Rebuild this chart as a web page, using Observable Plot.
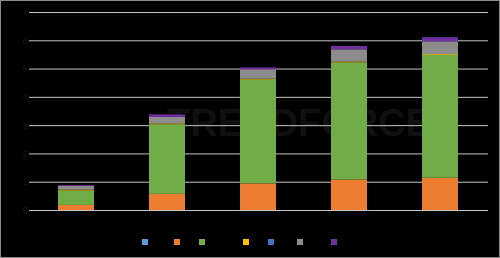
<!DOCTYPE html>
<html>
<head>
<meta charset="utf-8">
<script src="https://cdn.jsdelivr.net/npm/d3@7"></script>
<script src="https://cdn.jsdelivr.net/npm/@observablehq/plot@0.6"></script>
<style>
  html, body { margin: 0; padding: 0; background: #000; }
  #chart {
    width: 500px; height: 258px; box-sizing: border-box;
    border: 1px solid #8a8a8a; background: #000; position: relative;
    font-family: "Liberation Sans", Arial, sans-serif; overflow: hidden;
  }
  #legend { display: flex; height: 26px; align-items: flex-start; padding-top: 5px; padding-left: 141px; box-sizing: border-box; }
  .item { display: flex; align-items: center; font-size: 8px; line-height: 12px; color: #000; white-space: nowrap; }
  .sw { width: 6px; height: 6px; margin-right: 3px; flex: none; }
</style>
</head>
<body>
<div id="chart"></div>
<script>
const categories = ["2021", "2022", "2023", "2024", "2025"];
const seriesNames = ["S1", "S2", "S3", "S4", "S5", "S6", "S7"];
const seriesColors = ["#5B9BD5", "#ED7D31", "#70AD47", "#FFC000", "#4472C4", "#8C8C8C", "#7030A0"];
const series1 = [0, 0, 0, 0, 0];
const series2 = [0.18, 0.57, 0.94, 1.08, 1.14];
const series3 = [0.51, 2.46, 3.67, 4.14, 4.34];
const series4 = [0.03, 0.03, 0.03, 0.03, 0.03];
const series5 = [0, 0, 0, 0, 0];
const series6 = [0.13, 0.23, 0.33, 0.43, 0.45];
const series7 = [0.03, 0.09, 0.07, 0.12, 0.15];
const yTicks = [0, 1, 2, 3, 4, 5, 6, 7];
const watermark = "TRENDFORCE";

const allSeries = [series1, series2, series3, series4, series5, series6, series7];
const data = [];
categories.forEach((c, i) => {
  allSeries.forEach((s, j) => {
    data.push({category: c, series: seriesNames[j], value: s[i]});
  });
});

const plot = Plot.plot({
  width: 498,
  height: 230,
  marginLeft: 28,
  marginRight: 11,
  marginTop: 11,
  marginBottom: 21,
  style: {background: "#000", fontFamily: "Liberation Sans, Arial, sans-serif"},
  x: {domain: categories, paddingInner: 0.6, paddingOuter: 0.3, axis: null},
  y: {domain: [0, 7], ticks: yTicks, axis: null},
  color: {domain: seriesNames, range: seriesColors},
  marks: [
    Plot.text([watermark], {frameAnchor: "middle", dx: 40, dy: 12, text: d => d, fill: "#101010", fontSize: 38, fontWeight: "bold"}),
    Plot.gridY(yTicks, {stroke: "#c4c4c4", strokeOpacity: 1, strokeWidth: 1}),
    Plot.axisY(yTicks, {tickSize: 0, tickPadding: 2, fill: "#141414", fontSize: 9, label: null}),
    Plot.axisX(categories, {tickSize: 0, tickPadding: 4, fill: "#000", fontSize: 9, label: null}),
    Plot.barY(data.filter(d => d.value > 0), {x: "category", y: "value", fill: "series", order: seriesNames})
  ]
});
const chart = document.getElementById("chart");
chart.appendChild(plot);

const legend = document.createElement("div");
legend.id = "legend";
const itemWidths = [31.6, 25.4, 44, 25, 29, 33.6, 40];
seriesNames.forEach((n, i) => {
  const it = document.createElement("div");
  it.className = "item";
  it.style.width = itemWidths[i] + "px";
  const sw = document.createElement("span");
  sw.className = "sw";
  sw.style.background = seriesColors[i];
  it.appendChild(sw);
  const t = document.createElement("span");
  t.textContent = n;
  it.appendChild(t);
  legend.appendChild(it);
});
chart.appendChild(legend);
</script>
</body>
</html>
